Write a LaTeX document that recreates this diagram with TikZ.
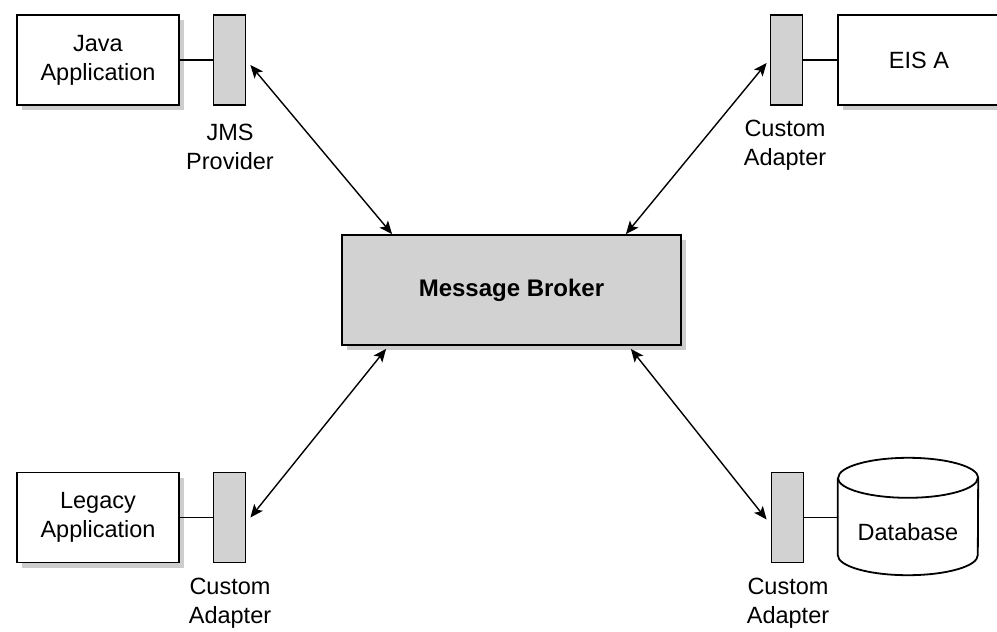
\documentclass[tikz,border=0pt]{standalone}
\usepackage{fontspec}
\setmainfont{Liberation Sans}
\usetikzlibrary{arrows.meta,shadows}
\definecolor{boxgray}{RGB}{210,210,210}
\definecolor{shadowgray}{RGB}{205,205,205}
\tikzset{
  appbox/.style={draw, line width=1.8pt, fill=white, rectangle, inner sep=0pt,
    minimum width=162pt, minimum height=90pt, align=center,
    font=\fontsize{23.5}{29}\selectfont,
    drop shadow={shadow xshift=5pt, shadow yshift=-5pt, fill=shadowgray, opacity=1}},
  adapter/.style={draw, line width=1.8pt, fill=boxgray, rectangle, inner sep=0pt,
    minimum width=32pt, minimum height=90pt},
  brokerbox/.style={draw, line width=1.8pt, fill=boxgray, rectangle, inner sep=0pt,
    minimum width=339pt, minimum height=110pt,
    font=\fontsize{24}{29}\selectfont\bfseries,
    drop shadow={shadow xshift=5pt, shadow yshift=-5pt, fill=shadowgray, opacity=1}},
  lbl/.style={align=center, inner sep=0pt, font=\fontsize{23.5}{29}\selectfont},
  link/.style={line width=1.8pt},
  biarrow/.style={line width=1.4pt, {Stealth[length=13pt,width=11pt,inset=3pt]}-{Stealth[length=13pt,width=11pt,inset=3pt]}},
}
\begin{document}
\begin{tikzpicture}[x=1pt,y=-1pt]
\useasboundingbox (0,0) rectangle (997,632);

% top left
\node[appbox] (java) at (98,60) {Java\\Application};
\node[adapter] (jms) at (229.5,60) {};
\node[lbl] (jmslbl) at (230,147) {JMS\\Provider};
\draw[link] (java) -- (jms);

% top right
\node[appbox] (eis) at (919,60) {EIS A};
\node[adapter] (eisad) at (786.5,60) {};
\node[lbl] (eislbl) at (785,145) {Custom\\Adapter};
\draw[link] (eisad) -- (eis);

% center
\node[brokerbox] (broker) at (511.5,290) {Message Broker};

% bottom left
\node[appbox] (legacy) at (98,517.5) {Legacy\\Application};
\node[adapter] (legad) at (229.5,517.5) {};
\node[lbl] (leglbl) at (230,603) {Custom\\Adapter};
\draw[link] (legacy) -- (legad);

% bottom right
\node[adapter] (dbad) at (787.5,517.5) {};
\node[inner sep=0pt, minimum width=140pt, minimum height=117pt] (db) at (908,516.5) {};
\draw[line width=1.8pt, fill=white]
  ([yshift=-20pt]db.north west) -- ([yshift=20pt]db.south west)
  arc[start angle=180, end angle=360, x radius=70pt, y radius=20pt]
  -- ([yshift=-20pt]db.north east)
  arc[start angle=0, end angle=180, x radius=70pt, y radius=20pt];
\draw[line width=1.8pt] ([yshift=-20pt]db.north west)
  arc[start angle=180, end angle=360, x radius=70pt, y radius=20pt];
\node[lbl] (dbtext) at (908,532) {Database};
\node[lbl] (dblbl) at (788,603) {Custom\\Adapter};
\draw[link] (dbad) -- (dbad -| db.west);

% arrows
\draw[biarrow] ([xshift=51pt]broker.north west) -- ([xshift=4pt,yshift=-5pt]jms.east);
\draw[biarrow] ([xshift=-56pt]broker.north east) -- ([xshift=-3pt,yshift=-3pt]eisad.west);
\draw[biarrow] ([xshift=45pt,yshift=-3pt]broker.south west) -- ([xshift=4pt]legad.east);
\draw[biarrow] ([xshift=-51pt,yshift=-3pt]broker.south east) -- ([xshift=-4pt,yshift=-2pt]dbad.west);
\end{tikzpicture}
\end{document}
